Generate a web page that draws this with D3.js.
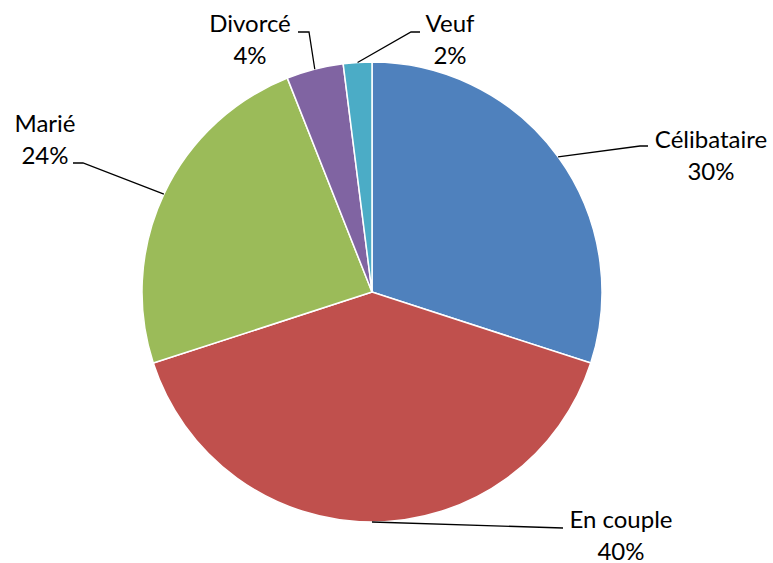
<!DOCTYPE html>
<html lang="fr">
<head>
    <meta charset="UTF-8">
    <title>Situation familiale</title>
    <script src="https://d3js.org/d3.v7.min.js"></script>
    <style>
        body { margin: 0; background: #fff; }
        text { font-family: Lato, "Open Sans", sans-serif; font-size: 24px; fill: #000; }
    </style>
</head>
<body>
    <div id="chart"></div>
    <script>
        // data
        const categories = ["Célibataire", "En couple", "Marié", "Divorcé", "Veuf"];
        const values = [30, 40, 24, 4, 2];
        const colors = ["#4F81BD", "#C0504D", "#9BBB59", "#8064A2", "#4BACC6"];

        // label placement (text centre, first baseline) and leader bend points
        const labelLayout = [
            { x: 711, y: 148, bend: [640, 146], end: [648, 146] },
            { x: 621, y: 528, bend: [563, 528], end: [563, 528] },
            { x: 45, y: 132, bend: [83, 163], end: [73, 163] },
            { x: 250, y: 32, bend: [309, 32], end: [298, 32] },
            { x: 450, y: 32, bend: [411, 32], end: [420, 32] }
        ];

        const w = 773;
        const h = 563;
        const cx = 372;
        const cy = 292;
        const r = 230;

        const svg = d3.select("#chart")
            .append("svg")
            .attr("width", w)
            .attr("height", h);

        const data = categories.map((c, i) => ({ name: c, value: values[i], color: colors[i] }));
        const total = d3.sum(values);
        const pct = d3.format(".0%");

        const pie = d3.pie()
            .value(d => d.value)
            .sort(null);

        const arc = d3.arc()
            .innerRadius(0)
            .outerRadius(r);

        const arcs = pie(data);

        const g = svg.append("g")
            .attr("transform", "translate(" + cx + "," + cy + ")");

        g.selectAll("path")
            .data(arcs)
            .enter()
            .append("path")
            .attr("d", arc)
            .attr("fill", d => d.data.color)
            .attr("stroke", "#fff")
            .attr("stroke-width", 1.5);

        // leader lines start on the rim at each slice's middle angle
        const rimPoint = d => {
            const a = (d.startAngle + d.endAngle) / 2;
            return [cx + r * Math.sin(a), cy - r * Math.cos(a)];
        };

        svg.selectAll("polyline")
            .data(arcs)
            .enter()
            .append("polyline")
            .attr("points", (d, i) => [rimPoint(d), labelLayout[i].bend, labelLayout[i].end].join(" "))
            .attr("fill", "none")
            .attr("stroke", "#000")
            .attr("stroke-width", 1.3);

        const labels = svg.selectAll("text.label")
            .data(arcs)
            .enter()
            .append("text")
            .attr("class", "label")
            .attr("text-anchor", "middle")
            .attr("x", (d, i) => labelLayout[i].x)
            .attr("y", (d, i) => labelLayout[i].y);

        labels.append("tspan")
            .attr("x", (d, i) => labelLayout[i].x)
            .text(d => d.data.name);

        labels.append("tspan")
            .attr("x", (d, i) => labelLayout[i].x)
            .attr("dy", 31.5)
            .text(d => pct(d.data.value / total));
    </script>
</body>
</html>
